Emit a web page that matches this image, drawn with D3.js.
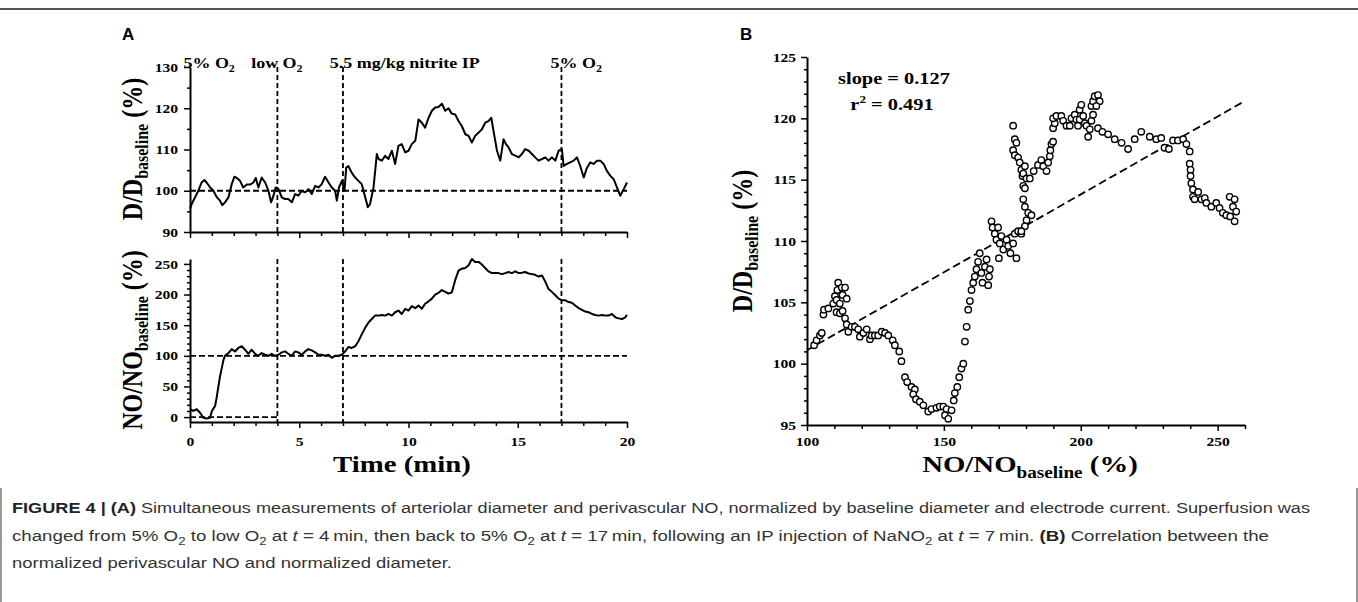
<!DOCTYPE html>
<html>
<head>
<meta charset="utf-8">
<script src="https://cdn.jsdelivr.net/npm/d3@7.9.0/dist/d3.min.js"></script>
<style>
  body { margin: 0; background: #fff; }
  svg { display: block; }
  .fig text { font-family: "Liberation Serif", "Times New Roman", serif; font-weight: bold; fill: #000; }
  .axis .domain { stroke: #000; stroke-width: 2; }
  .axis line { stroke: #000; stroke-width: 1.5; }
  .axis text { font-size: 13px; }
  .caption text { font-family: "Liberation Sans Narrow", "Liberation Sans", Arial, sans-serif; font-size: 15.5px; fill: #333; }
</style>
</head>
<body>
<svg id="chart" width="1358" height="602"></svg>
<script>
// ---- data ----

// panel A, top: arteriolar diameter, [time (min), D/D baseline (%)]
const diameterTrace = [
  [0.00, 95.6], [0.08, 96.8], [0.23, 98.4], [0.38, 100.0], [0.53, 102.0], [0.66, 102.6],
  [0.76, 102.0], [0.92, 100.8], [1.07, 100.0], [1.22, 98.5], [1.37, 97.6], [1.48, 96.5],
  [1.60, 97.2], [1.76, 98.4], [1.91, 101.6], [2.03, 103.4], [2.14, 103.1], [2.29, 102.4],
  [2.44, 100.8], [2.60, 101.5], [2.75, 101.5], [2.90, 102.0], [3.01, 103.1], [3.13, 100.8],
  [3.28, 103.2], [3.44, 102.0], [3.59, 100.0], [3.71, 97.2], [3.82, 98.8], [3.92, 100.8],
  [4.05, 100.4], [4.20, 98.4], [4.35, 98.0], [4.50, 98.0], [4.66, 97.2], [4.81, 99.2],
  [4.96, 98.8], [5.11, 100.0], [5.27, 99.6], [5.42, 100.4], [5.57, 99.2], [5.73, 101.2],
  [5.88, 100.8], [6.03, 101.6], [6.18, 103.4], [6.34, 102.0], [6.49, 100.8], [6.64, 100.0],
  [6.72, 97.6], [6.82, 100.8], [6.95, 102.4], [7.07, 100.0], [7.15, 105.6], [7.25, 106.0],
  [7.40, 104.4], [7.56, 103.2], [7.71, 102.4], [7.86, 101.6], [8.02, 98.4], [8.14, 96.0],
  [8.24, 96.8], [8.40, 100.8], [8.55, 108.9], [8.63, 107.7], [8.78, 107.3], [8.93, 108.5],
  [9.08, 107.7], [9.24, 109.7], [9.39, 106.5], [9.54, 110.9], [9.69, 111.3], [9.85, 109.3],
  [10.00, 109.7], [10.15, 111.3], [10.31, 112.1], [10.46, 117.3], [10.61, 116.5], [10.76, 115.3],
  [10.92, 117.7], [11.07, 119.4], [11.22, 120.2], [11.37, 120.3], [11.53, 121.1], [11.68, 119.4],
  [11.83, 120.0], [11.98, 118.7], [12.14, 118.5], [12.29, 116.9], [12.44, 115.7], [12.60, 113.7],
  [12.75, 113.3], [12.90, 111.7], [13.05, 113.3], [13.21, 114.1], [13.36, 114.9], [13.51, 116.5],
  [13.66, 116.9], [13.79, 117.7], [13.89, 114.5], [14.05, 109.7], [14.20, 107.3], [14.35, 112.5],
  [14.46, 111.3], [14.58, 110.5], [14.73, 108.9], [14.89, 108.5], [15.04, 108.1], [15.19, 108.9],
  [15.34, 110.1], [15.50, 109.7], [15.65, 108.9], [15.80, 108.1], [15.95, 107.3], [16.11, 107.7],
  [16.26, 108.1], [16.41, 107.3], [16.56, 108.1], [16.72, 107.3], [16.87, 109.7], [17.02, 110.1],
  [17.10, 106.0], [17.25, 106.5], [17.40, 106.9], [17.56, 107.3], [17.71, 108.1], [17.86, 106.0],
  [18.02, 103.2], [18.17, 105.6], [18.32, 106.9], [18.47, 106.5], [18.63, 107.3], [18.78, 107.3],
  [18.93, 106.5], [19.08, 104.8], [19.24, 103.6], [19.39, 102.8], [19.54, 100.8], [19.69, 98.8],
  [19.85, 100.4], [20.00, 102.0]
];

// panel A, bottom: perivascular NO, [time (min), NO/NO baseline (%)]
const noTrace = [
  [0.00, 12.8], [0.15, 10.0], [0.31, 12.8], [0.46, 7.2], [0.61, -1.1], [0.76, -2.2],
  [0.92, -1.1], [1.00, 10.0], [1.15, 18.3], [1.22, 32.0], [1.37, 65.6], [1.53, 93.0],
  [1.60, 100.0], [1.76, 104.4], [1.91, 111.0], [2.06, 107.0], [2.21, 112.8], [2.37, 115.6],
  [2.52, 110.0], [2.67, 103.3], [2.82, 110.0], [2.98, 103.3], [3.13, 100.0], [3.28, 104.4],
  [3.44, 101.7], [3.59, 100.0], [3.74, 103.3], [3.89, 100.0], [4.05, 101.7], [4.20, 105.6],
  [4.35, 107.2], [4.50, 103.3], [4.66, 100.0], [4.81, 107.2], [4.96, 105.6], [5.11, 101.7],
  [5.27, 107.2], [5.42, 111.0], [5.57, 108.9], [5.73, 105.6], [5.88, 101.7], [6.03, 101.7],
  [6.18, 100.0], [6.34, 101.7], [6.49, 96.7], [6.64, 100.0], [6.79, 100.0], [6.95, 101.7],
  [7.10, 107.2], [7.25, 114.4], [7.40, 112.8], [7.56, 115.6], [7.71, 123.9], [7.86, 135.0],
  [8.02, 146.0], [8.17, 154.4], [8.32, 160.0], [8.47, 165.6], [8.63, 165.6], [8.78, 166.7],
  [8.93, 165.6], [9.08, 168.3], [9.24, 165.6], [9.39, 171.1], [9.54, 173.9], [9.69, 168.3],
  [9.85, 176.7], [10.00, 173.9], [10.15, 181.1], [10.31, 177.8], [10.46, 182.2], [10.61, 176.7],
  [10.76, 185.0], [10.92, 188.9], [11.07, 193.3], [11.22, 200.0], [11.37, 202.8], [11.53, 207.2],
  [11.68, 204.4], [11.83, 201.7], [11.98, 203.3], [12.14, 223.9], [12.29, 238.9], [12.44, 242.2],
  [12.60, 243.3], [12.75, 247.8], [12.90, 258.0], [13.05, 253.3], [13.21, 253.3], [13.36, 248.9],
  [13.51, 243.3], [13.66, 237.8], [13.82, 235.0], [13.97, 235.0], [14.12, 235.0], [14.27, 233.3],
  [14.43, 235.0], [14.58, 236.7], [14.73, 235.0], [14.89, 237.8], [15.04, 235.0], [15.19, 235.6],
  [15.34, 236.7], [15.50, 234.4], [15.65, 233.3], [15.80, 232.2], [15.95, 229.4], [16.11, 231.1],
  [16.26, 221.1], [16.41, 208.9], [16.56, 204.4], [16.72, 198.9], [16.87, 193.3], [17.02, 190.6],
  [17.18, 190.6], [17.33, 187.8], [17.48, 186.7], [17.63, 182.2], [17.79, 177.8], [17.94, 175.0],
  [18.09, 172.2], [18.24, 171.1], [18.40, 168.3], [18.55, 166.7], [18.70, 165.6], [18.85, 166.7],
  [19.01, 165.6], [19.16, 165.6], [19.31, 168.3], [19.47, 162.8], [19.62, 161.1], [19.77, 160.0],
  [19.92, 162.8], [20.00, 166.7]
];

// panel B: [NO/NO baseline (%), D/D baseline (%)]
const scatterPoints = [
  [102.6, 101.5], [103.5, 101.9], [104.7, 102.3], [105.4, 102.5], [106.0, 104.0], [106.2, 104.4],
  [107.8, 104.5], [109.6, 104.9], [110.2, 105.5], [111.1, 106.0], [111.4, 106.6], [112.7, 106.2],
  [113.9, 106.2], [113.0, 105.6], [114.5, 105.3], [110.8, 105.2], [112.0, 104.9], [110.8, 104.2],
  [112.0, 104.1], [113.0, 104.3], [113.9, 103.7], [114.5, 103.2], [115.1, 102.6], [116.3, 103.0],
  [117.5, 103.0], [118.7, 102.8], [119.3, 102.2], [120.6, 102.5], [121.8, 102.8], [123.0, 102.0],
  [123.6, 102.3], [124.8, 102.3], [126.0, 102.3], [127.3, 102.6], [128.5, 102.5], [129.7, 102.3],
  [131.3, 101.9], [132.1, 101.5], [133.7, 101.0], [134.5, 100.2], [135.8, 98.9], [136.6, 98.5],
  [138.2, 98.1], [139.4, 97.9], [138.8, 97.5], [139.8, 97.1], [141.2, 96.9], [142.5, 96.6],
  [144.3, 96.1], [145.5, 96.3], [147.3, 96.4], [148.5, 96.5], [149.8, 96.5], [151.0, 96.3],
  [150.4, 95.8], [151.6, 95.5], [152.8, 96.2], [153.6, 97.0], [154.0, 97.6], [154.9, 98.1],
  [155.6, 98.9], [156.4, 99.6], [157.1, 100.0], [157.7, 101.8], [158.3, 103.0], [158.9, 104.4],
  [159.5, 105.1], [160.1, 106.0], [160.7, 106.6], [161.3, 107.1], [161.9, 107.7], [162.5, 108.3],
  [163.1, 109.0], [164.1, 106.6], [163.7, 107.4], [165.0, 107.9], [165.6, 108.5], [166.2, 106.4],
  [166.5, 107.1], [166.8, 107.7], [167.4, 111.6], [167.8, 111.1], [168.6, 110.6], [169.8, 111.1],
  [169.2, 110.1], [170.4, 109.8], [171.0, 110.4], [171.7, 109.3], [170.1, 108.6], [172.9, 110.1],
  [173.5, 109.6], [174.3, 109.0], [175.3, 109.8], [176.5, 108.6], [175.9, 110.6], [177.1, 110.8],
  [178.3, 110.6], [175.3, 119.4], [175.9, 118.3], [176.5, 118.0], [175.3, 117.4], [175.9, 117.0],
  [177.1, 116.8], [177.7, 116.4], [178.3, 115.8], [178.7, 115.3], [179.0, 114.5], [179.6, 116.1],
  [179.0, 115.5], [180.2, 115.1], [179.6, 114.3], [179.0, 113.4], [179.6, 112.8], [180.8, 112.3],
  [182.0, 112.1], [180.2, 111.7], [179.6, 111.2], [178.3, 110.8], [181.4, 115.1], [182.8, 115.7],
  [184.4, 116.2], [185.6, 116.6], [186.3, 116.1], [187.5, 115.7], [188.1, 116.4], [188.7, 116.9],
  [188.9, 117.4], [189.3, 117.9], [189.9, 118.1], [189.9, 119.2], [190.5, 119.6], [189.9, 120.0],
  [191.1, 120.2], [192.9, 120.2], [193.6, 119.8], [194.8, 119.4], [196.0, 119.4], [196.6, 120.0],
  [197.8, 120.3], [198.4, 119.9], [199.0, 119.4], [199.6, 119.9], [199.6, 120.7], [200.2, 121.1],
  [200.9, 120.2], [201.5, 119.6], [202.1, 119.4], [202.7, 118.5], [203.3, 119.1], [203.9, 119.8],
  [204.5, 120.3], [203.9, 121.0], [204.5, 121.4], [205.1, 121.8], [206.3, 121.9], [206.9, 121.4],
  [205.7, 121.0], [206.3, 119.2], [207.9, 118.9], [210.0, 118.7], [212.4, 118.3], [214.9, 118.0],
  [217.3, 117.5], [219.7, 118.3], [222.1, 118.9], [225.2, 118.5], [227.6, 118.3], [229.4, 118.4],
  [230.6, 117.6], [232.2, 117.5], [233.7, 118.2], [235.5, 118.2], [237.4, 118.3], [238.6, 117.9],
  [239.8, 117.3], [239.8, 116.3], [240.1, 115.8], [240.1, 115.3], [240.4, 114.7], [241.0, 114.2],
  [241.0, 113.6], [241.6, 113.4], [242.9, 114.0], [244.1, 113.4], [245.3, 113.5], [245.9, 113.1],
  [247.7, 112.8], [249.5, 113.1], [250.7, 112.7], [251.9, 112.3], [253.2, 112.1], [254.6, 112.0],
  [254.4, 113.6], [256.2, 113.4], [255.6, 112.8], [256.8, 112.4], [256.2, 111.6]
];

const fitSlope = 0.127;
const fitIntercept = 88.4;
const fitRange = [100, 260];

const eventTimes = [4, 7, 17];
const eventLabels = [
  { t: -0.3, parts: ['5% O', '2'] },
  { t: 2.8, parts: ['low O', '2'] },
  { t: 6.4, parts: ['5.5 mg/kg nitrite IP'] },
  { t: 16.5, parts: ['5% O', '2'] }
];

const timeTicks = [0, 5, 10, 15, 20];
const diamTicks = [90, 100, 110, 120, 130];
const noTicks = [0, 50, 100, 150, 200, 250];
const bxTicks = [100, 150, 200, 250];
const byTicks = [95, 100, 105, 110, 115, 120, 125];

// ---- layout ----
const K = 1.2; // the scanned figure text is stretched horizontally

const svg = d3.select('#chart');
const fig = svg.append('g').attr('class', 'fig');

const xA = d3.scaleLinear().domain([0, 20]).range([190, 627]);
const yD = d3.scaleLinear().domain([90, 130]).range([232, 67]);
const yN = d3.scaleLinear().domain([-8, 258]).range([422, 259]);
const xB = d3.scaleLinear().domain([100, 260]).range([807, 1245]);
const yB = d3.scaleLinear().domain([95, 125]).range([425, 57]);

function stretch(sel) {
  sel.each(function () {
    const x = +this.getAttribute('x') || 0;
    d3.select(this).attr('transform', `translate(${x},0) scale(${K},1) translate(${-x},0)`);
  });
}

function minorTicks(lo, hi, step, majors) {
  const out = [];
  for (let v = lo; v <= hi + 1e-9; v += step) {
    const r = Math.round(v * 100) / 100;
    if (!majors.includes(r)) out.push(r);
  }
  return out;
}

function drawAxis(axisFn, scale, transform, majors, minors, majorLen, minorLen, pad, labels) {
  const g = fig.append('g').attr('class', 'axis').attr('transform', transform);
  g.call(axisFn(scale).tickValues(minors).tickSize(minorLen).tickFormat('').tickSizeOuter(0));
  const gm = g.append('g').call(
    axisFn(scale).tickValues(majors).tickSize(majorLen).tickPadding(pad).tickSizeOuter(0)
      .tickFormat(labels ? d3.format('d') : '')
  );
  gm.select('.domain').remove();
  g.attr('font-family', null).attr('font-size', null);
  gm.attr('font-family', null).attr('font-size', null);
  gm.selectAll('text').call(stretch);
  return g;
}

// panel A axes
drawAxis(d3.axisLeft, yD, 'translate(190,0)', diamTicks, minorTicks(90, 130, 5, diamTicks), 6, 3, 6, true);
drawAxis(d3.axisLeft, yN, 'translate(190,0)', noTicks, minorTicks(0, 250, 10, noTicks), 6, 3, 6, true);
drawAxis(d3.axisBottom, xA, 'translate(0,232)', timeTicks, minorTicks(0, 20, 1, timeTicks), 6, 4, 9, false);
drawAxis(d3.axisBottom, xA, 'translate(0,422)', timeTicks, minorTicks(0, 20, 1, timeTicks), 6, 4, 9, true);

// panel B axes
drawAxis(d3.axisLeft, yB, 'translate(807,0)', byTicks, minorTicks(95, 125, 1, byTicks), 6, 3, 5, true);
drawAxis(d3.axisBottom, xB, 'translate(0,425)', bxTicks, minorTicks(100, 260, 10, bxTicks), 6, 4, 6, true);

// dashed reference lines, panel A
const dash = { stroke: '#000', 'stroke-width': 1.8, 'stroke-dasharray': '6,3', fill: 'none' };
function dashed(x1, y1, x2, y2, pattern) {
  const l = fig.append('line').attr('x1', x1).attr('y1', y1).attr('x2', x2).attr('y2', y2);
  Object.entries(dash).forEach(([k, v]) => l.attr(k, v));
  if (pattern) l.attr('stroke-dasharray', pattern);
  return l;
}

dashed(xA(0), yD(100), xA(20), yD(100));
dashed(xA(0), yN(100), xA(20), yN(100));
dashed(xA(0), yN(0), xA(4), yN(0));
eventTimes.forEach((t) => {
  dashed(xA(t), yD(130), xA(t), yD(90), '5,3');
  dashed(xA(t), yN(258), xA(t), yN(-8), '5,3');
});

// traces
const lineD = d3.line().x((d) => xA(d[0])).y((d) => yD(d[1]));
const lineN = d3.line().x((d) => xA(d[0])).y((d) => yN(d[1]));
fig.append('path').datum(diameterTrace).attr('d', lineD)
  .attr('fill', 'none').attr('stroke', '#000').attr('stroke-width', 2).attr('stroke-linejoin', 'round');
fig.append('path').datum(noTrace).attr('d', lineN)
  .attr('fill', 'none').attr('stroke', '#000').attr('stroke-width', 2).attr('stroke-linejoin', 'round');

// event labels
eventLabels.forEach((e) => {
  const t = fig.append('text').attr('x', xA(e.t)).attr('y', 68).attr('font-size', 15);
  t.append('tspan').text(e.parts[0]);
  if (e.parts[1]) t.append('tspan').attr('dy', 4).attr('font-size', 10).text(e.parts[1]);
  t.call(stretch);
});

// rotated axis titles
function yTitle(x, y, main, sub, tail) {
  const t = fig.append('text')
    .attr('transform', `translate(${x},${y}) scale(${K},1) rotate(-90)`)
    .attr('text-anchor', 'middle').attr('font-size', 24);
  t.append('tspan').text(main);
  t.append('tspan').attr('dy', 5).attr('font-size', 16).text(sub);
  t.append('tspan').attr('dy', -5).text(tail);
}
yTitle(142, 149, 'D/D', 'baseline', ' (%)');
yTitle(142, 340, 'NO/NO', 'baseline', ' (%)');
yTitle(752, 241, 'D/D', 'baseline', ' (%)');

// x titles
fig.append('text').attr('x', 402).attr('y', 472).attr('text-anchor', 'middle')
  .attr('font-size', 24).text('Time (min)').call(stretch);
const xtB = fig.append('text').attr('x', 1030).attr('y', 472).attr('text-anchor', 'middle').attr('font-size', 24);
xtB.append('tspan').text('NO/NO');
xtB.append('tspan').attr('dy', 6).attr('font-size', 16).text('baseline');
xtB.append('tspan').attr('dy', -6).text(' (%)');
xtB.call(stretch);

// regression line + scatter
dashed(xB(fitRange[0]), yB(fitIntercept + fitSlope * fitRange[0]),
       xB(fitRange[1]), yB(fitIntercept + fitSlope * fitRange[1]), '8,4');

fig.append('g').selectAll('circle').data(scatterPoints).join('circle')
  .attr('cx', (d) => xB(d[0])).attr('cy', (d) => yB(d[1])).attr('r', 3.2)
  .attr('fill', '#fff').attr('stroke', '#000').attr('stroke-width', 1.4);

// fit annotation
fig.append('text').attr('x', 894).attr('y', 84).attr('text-anchor', 'middle')
  .attr('font-size', 17).text('slope = 0.127').call(stretch);
const r2 = fig.append('text').attr('x', 892).attr('y', 110).attr('text-anchor', 'middle').attr('font-size', 17);
r2.append('tspan').text('r');
r2.append('tspan').attr('dy', -7).attr('font-size', 11).text('2');
r2.append('tspan').attr('dy', 7).text(' = 0.491');
r2.call(stretch);

// panel letters
svg.append('text').attr('x', 122).attr('y', 40).text('A')
  .attr('font-family', 'Liberation Sans, Arial, sans-serif').attr('font-weight', 'bold').attr('font-size', 17);
svg.append('text').attr('x', 740).attr('y', 40).text('B')
  .attr('font-family', 'Liberation Sans, Arial, sans-serif').attr('font-weight', 'bold').attr('font-size', 17);

// frame
svg.append('line').attr('x1', 0).attr('x2', 1358).attr('y1', 9).attr('y2', 9)
  .attr('stroke', '#555').attr('stroke-width', 2);
svg.append('line').attr('x1', 1).attr('x2', 1).attr('y1', 488).attr('y2', 602)
  .attr('stroke', '#777').attr('stroke-width', 1.5);
svg.append('line').attr('x1', 1357).attr('x2', 1357).attr('y1', 488).attr('y2', 602)
  .attr('stroke', '#777').attr('stroke-width', 1.5);

// caption
const captionLines = [
  { y: 513, len: 1298, segs: [['FIGURE 4 | ', 'b'], ['(A)', 'b'],
    [' Simultaneous measurements of arteriolar diameter and perivascular NO, normalized by baseline diameter and electrode current. Superfusion was', '']] },
  { y: 541, len: 1257, segs: [['changed from 5% O', ''], ['2', 's'], [' to low O', ''], ['2', 's'], [' at ', ''], ['t', 'i'],
    [' = 4\u2009min, then back to 5% O', ''], ['2', 's'], [' at ', ''], ['t', 'i'], [' = 17\u2009min, following an IP injection of NaNO', ''],
    ['2', 's'], [' at ', ''], ['t', 'i'], [' = 7\u2009min. ', ''], ['(B)', 'b'], [' Correlation between the', '']] },
  { y: 568, len: 440, segs: [['normalized perivascular NO and normalized diameter.', '']] }
];
const cap = svg.append('g').attr('class', 'caption');
captionLines.forEach((line) => {
  const t = cap.append('text').attr('x', 12).attr('y', line.y)
    .attr('textLength', line.len).attr('lengthAdjust', 'spacingAndGlyphs');
  let shifted = false;
  line.segs.forEach(([s, kind]) => {
    const ts = t.append('tspan').text(s);
    if (kind === 'b') ts.attr('font-weight', 'bold').attr('fill', '#222');
    if (kind === 'i') ts.attr('font-style', 'italic');
    if (kind === 's') { ts.attr('dy', 4).attr('font-size', 11); shifted = true; }
    else if (shifted) { ts.attr('dy', -4); shifted = false; }
  });
});
</script>
</body>
</html>
